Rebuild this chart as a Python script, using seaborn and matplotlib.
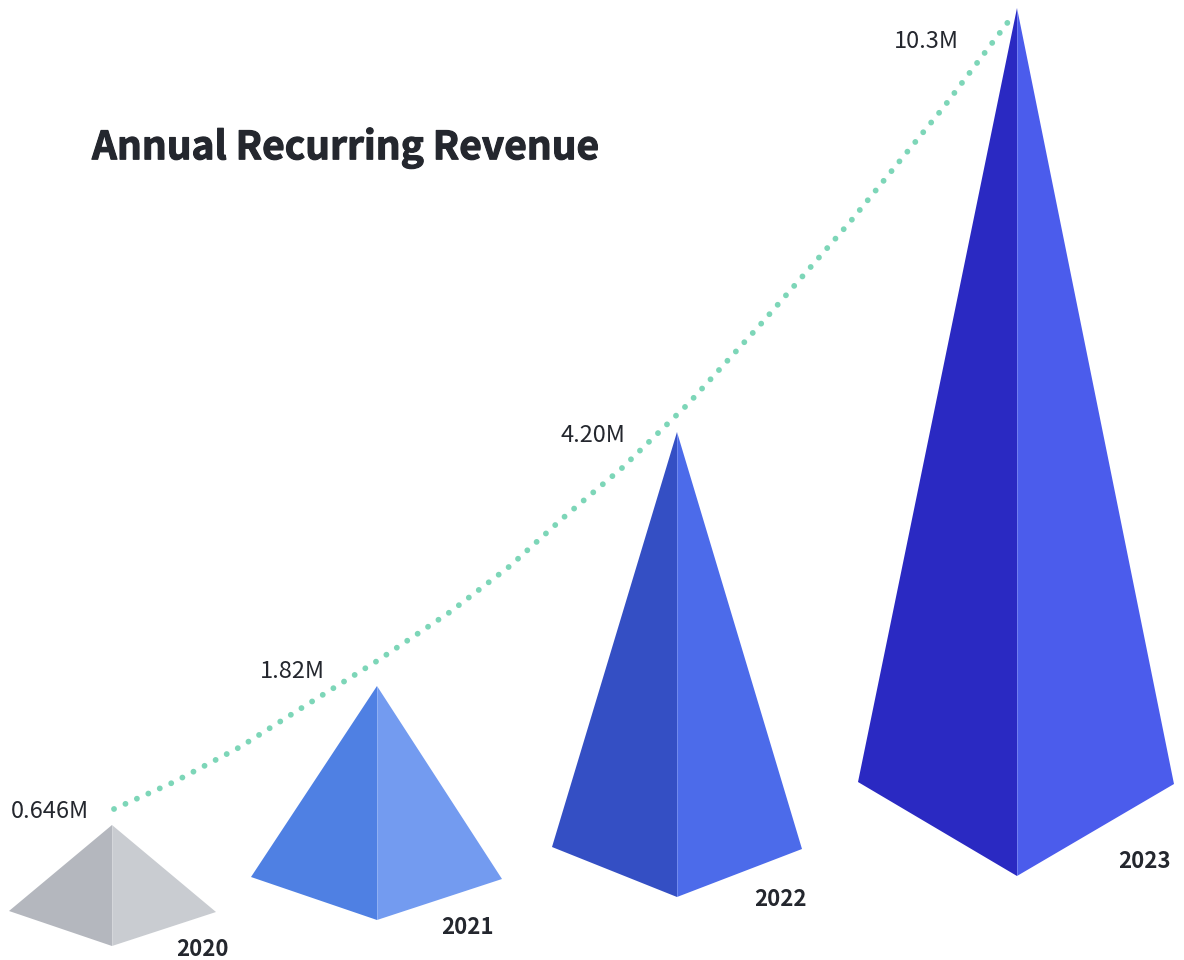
import matplotlib
matplotlib.use("Agg")
import matplotlib.patheffects as pe
import matplotlib.pyplot as plt
import pandas as pd
import seaborn as sns

sns.set_theme(style="white")
plt.rcParams['font.family'] = ['Noto Sans CJK SC', 'DejaVu Sans']

# data
years = ["2020", "2021", "2022", "2023"]
arr_labels = ["0.646M", "1.82M", "4.20M", "10.3M"]

# pyramid geometry, in picture pixels
apex_x = [112, 377, 677, 1017]
apex_y = [825, 686, 432, 8]
left_x = [9, 251, 552, 858]
left_y = [911, 877, 847, 782]
front_y = [946, 920, 897, 876]
right_x = [216, 502, 802, 1174]
right_y = [912, 879, 849, 784]

# dotted trend line
trend_x = [114, 174, 240, 300, 377, 450, 510, 563, 622, 688, 760, 850, 943, 1008]
trend_y = [809, 782, 747, 709, 661, 612, 566, 518, 468, 404, 325, 222, 108, 22]

left_colors = ["#b4b7be", "#4f80e3", "#344fc4", "#2a29c2"]
right_colors = ["#c9ccd1", "#739bf0", "#4c6bea", "#4b5cec"]

trend = pd.DataFrame({"x": trend_x, "y": trend_y})

fig, ax = plt.subplots(figsize=(11.84, 9.6), dpi=100)
fig.subplots_adjust(left=0, right=1, bottom=0, top=1)

for i in range(len(years)):
    ax.fill([apex_x[i], left_x[i], apex_x[i]], [apex_y[i], left_y[i], front_y[i]],
            color=left_colors[i], lw=0)
    ax.fill([apex_x[i], right_x[i], apex_x[i]], [apex_y[i], right_y[i], front_y[i]],
            color=right_colors[i], lw=0)
    # faint highlight on the front edge
    ax.plot([apex_x[i], apex_x[i]], [apex_y[i], front_y[i]], color="white", lw=0.5, alpha=0.3)

sns.lineplot(data=trend, x="x", y="y", ax=ax, sort=False, estimator=None, errorbar=None,
             color="#7dd6b8", lw=4.2, linestyle=(0, (0.01, 2.14)), dash_capstyle="round")

ax.set_xlim(0, 1184)
ax.set_ylim(960, 0)
ax.axis("off")

text_color = "#24272e"
ax.text(92, 148, "Annual Recurring Revenue", fontsize=28, fontweight="bold",
        color=text_color, ha="left", va="center",
        path_effects=[pe.withStroke(linewidth=0.8, foreground=text_color)])

# value labels sit left of each apex, year labels right of each base
label_x = [89, 325, 625, 959]
label_y = [812, 672, 435, 42]
year_x = [229, 494, 807, 1171]
year_y = [950, 927, 899, 862]
for i in range(len(years)):
    ax.text(label_x[i], label_y[i], arr_labels[i], fontsize=17, color=text_color,
            ha="right", va="center")
    ax.text(year_x[i], year_y[i], years[i], fontsize=16, fontweight="bold",
            color=text_color, ha="right", va="center")

plt.savefig("out.png", dpi=100)
plt.close()
